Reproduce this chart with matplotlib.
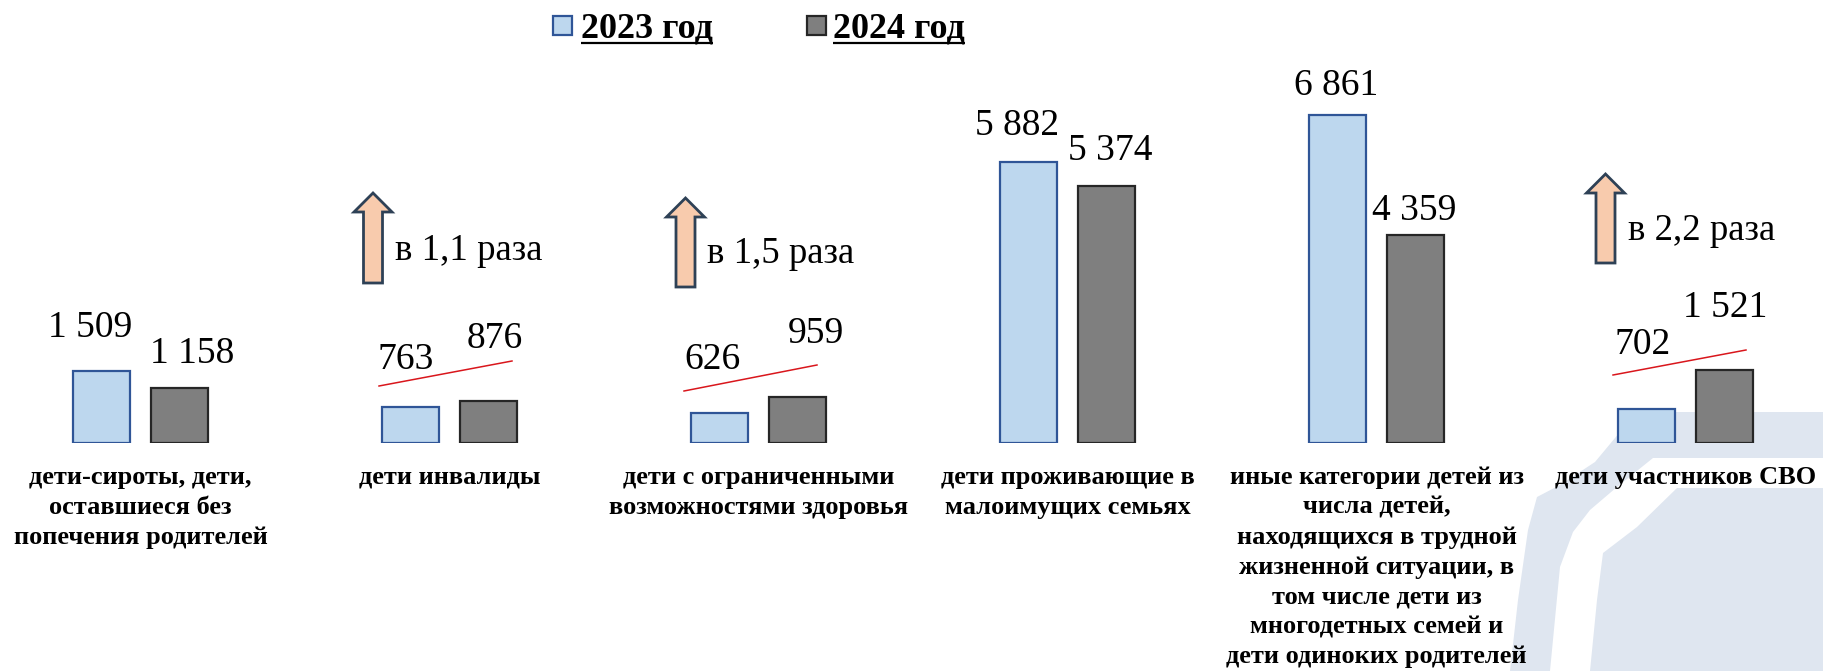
import matplotlib
matplotlib.use('Agg')
import matplotlib.pyplot as plt
from matplotlib.patches import Rectangle, Polygon

# ---------------- data ----------------
categories = [
    "дети-сироты, дети,\nоставшиеся без\nпопечения родителей",
    "дети инвалиды",
    "дети с ограниченными\nвозможностями здоровья",
    "дети проживающие в\nмалоимущих семьях",
    "иные категории детей из\nчисла детей,\nнаходящихся в трудной\nжизненной ситуации, в\nтом числе дети из\nмногодетных семей и\nдети одиноких родителей",
    "дети участников СВО",
]
values_2023 = [1509, 763, 626, 5882, 6861, 702]
values_2024 = [1158, 876, 959, 5374, 4359, 1521]
series_names = ["2023 год", "2024 год"]
growth_labels = [None, "в 1,1 раза", "в 1,5 раза", None, None, "в 2,2 раза"]

# ---------------- styling / layout ----------------
W, H = 1823, 671
C23, E23 = "#BDD7EE", "#2F5597"
C24, E24 = "#7F7F7F", "#262626"
SERIF = "Liberation Serif"
base_px = 443          # baseline of bars from top (px)
ppu = 0.0478           # px per unit
x0px, step = 140.5, 309.0
off = 39 / step
bw = 57 / step

# label offsets (px): (dx from bar centre, dy above bar top)
lab23_off = [(-11.5, 34), (-4.5, 37.5), (-6.5, 44), (-11.5, 27), (-1.5, 20), (-3.5, 55)]
lab24_off = [(12.5, 25), (6.5, 53), (18.5, 54), (3.5, 26), (-1.5, 15), (0.5, 53)]
# growth arrows (px): shaft centre dx from group centre, top y, bottom y, text dx, text baseline y
arrow_spec = {1: (-76.5, 193, 283, -54.5, 260),
              2: (-73.0, 198, 287, -51.5, 263),
              5: (-80.0, 174, 263, -57.5, 240)}
# red trend lines (px): start dx, start y, end dx, end y
trend_spec = {1: (-70.5, 386, 62.5, 361),
              2: (-74.5, 391, 58.5, 365),
              5: (-72.5, 375, 60.5, 350)}

fig = plt.figure(figsize=(W / 100, H / 100), dpi=100)
fig.patch.set_facecolor("white")

bg = fig.add_axes([0, 0, 1, 1])
bg.set_xlim(0, W)
bg.set_ylim(H, 0)
bg.axis("off")
bg.set_zorder(0)

# watermark shape
wm = "#DFE6F0"
outer = [(1650, 412), (1823, 412), (1823, 671), (1510, 671), (1518, 600),
         (1528, 530), (1537, 497), (1560, 485), (1595, 462), (1620, 432)]
band = [(1653, 458), (1823, 458), (1823, 488), (1677, 488), (1637, 527),
        (1603, 553), (1597, 600), (1590, 671), (1550, 671), (1560, 567),
        (1573, 532), (1590, 510), (1617, 487)]
bg.add_patch(Polygon(outer, closed=True, facecolor=wm, edgecolor="none", zorder=0))
bg.add_patch(Polygon(band, closed=True, facecolor="white", edgecolor="none", zorder=0.5))

ax = fig.add_axes([0, (H - base_px) / H, 1, base_px / H])
ax.set_zorder(1)
ax.patch.set_alpha(0)
ax.set_xlim(-x0px / step, (W - x0px) / step)
ax.set_ylim(0, base_px / ppu)
ax.axis("off")

x = list(range(len(categories)))
ax.bar([i - off for i in x], values_2023, bw, color=C23, edgecolor=E23, linewidth=1.6)
ax.bar([i + off for i in x], values_2024, bw, color=C24, edgecolor=E24, linewidth=1.6)


def fmt(v):
    return f"{v:,}".replace(",", " ")


for i in x:
    for v, xs, (dx, dy) in ((values_2023[i], i - off, lab23_off[i]),
                            (values_2024[i], i + off, lab24_off[i])):
        ax.annotate(fmt(v), xy=(xs, v), xytext=(dx, dy), textcoords="offset pixels",
                    ha="center", va="baseline", fontsize=27, family=SERIF,
                    color="black", annotation_clip=False)
    ax.annotate(categories[i], xy=(i, 0), xytext=(0, -23), textcoords="offset pixels",
                ha="center", va="top", multialignment="center",
                fontsize=19, fontweight="bold", family=SERIF, linespacing=1.38,
                color="black", annotation_clip=False)

# arrows, growth text, trend lines
for i, lab in enumerate(growth_labels):
    if lab is None:
        continue
    gx = x0px + step * i
    dx, top, bot, tdx, tby = arrow_spec[i]
    cx = gx + dx
    sw, hw, hl = 9.5, 19, 19
    pts = [(cx - sw, bot), (cx - sw, top + hl), (cx - hw, top + hl), (cx, top),
           (cx + hw, top + hl), (cx + sw, top + hl), (cx + sw, bot)]
    bg.add_patch(Polygon(pts, closed=True, facecolor="#F8CBAD", edgecolor="#2E4156",
                         linewidth=2, joinstyle="miter", zorder=3))
    bg.text(gx + tdx, tby, lab, ha="left", va="baseline", fontsize=26.5,
            family=SERIF, color="black", zorder=3)
    sdx, sy, edx, ey = trend_spec[i]
    bg.plot([gx + sdx, gx + edx], [sy, ey], color="#D9161C", lw=1.1, zorder=3)

# legend
leg_items = [(553, 581, C23, E23), (807, 833, C24, E24)]
texts = []
for (mx, tx, fc, ec), name in zip(leg_items, series_names):
    bg.add_patch(Rectangle((mx, 16), 19, 19, facecolor=fc, edgecolor=ec, linewidth=1.6, zorder=3))
    t = bg.text(tx, 37, name, ha="left", va="baseline", fontsize=26, fontweight="bold",
                family=SERIF, color="black", zorder=3)
    texts.append(t)

fig.canvas.draw()
r = fig.canvas.get_renderer()
for t in texts:
    bb = t.get_window_extent(r)
    bg.plot([bb.x0, bb.x1], [43, 43], color="black", lw=1.6, zorder=3,
            solid_capstyle="butt")

fig.savefig("out.png", dpi=100, facecolor="white")
